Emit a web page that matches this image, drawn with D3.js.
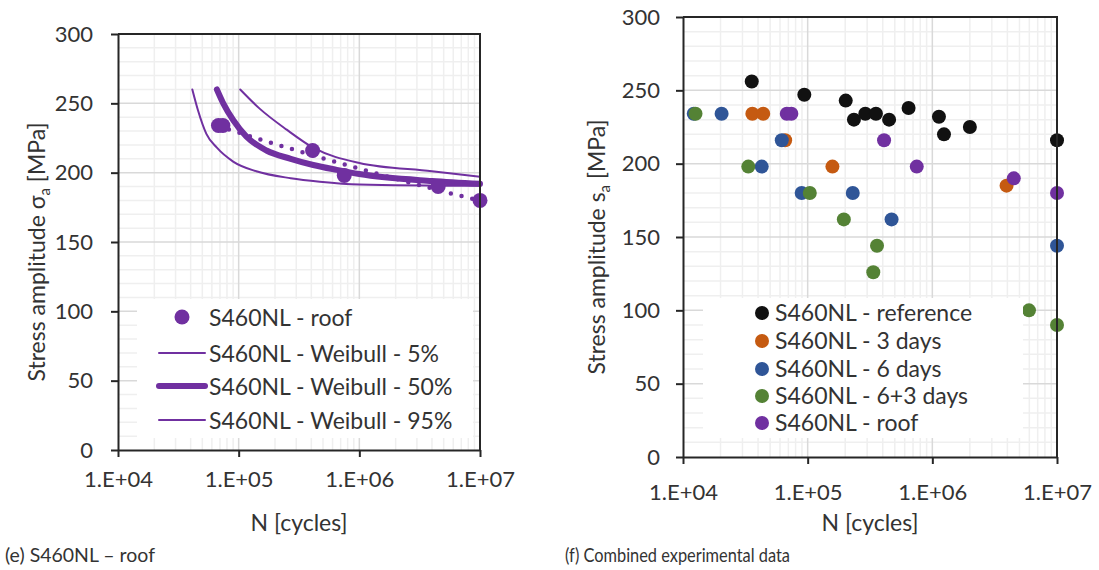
<!DOCTYPE html>
<html>
<head>
<meta charset="utf-8">
<script src="https://cdn.jsdelivr.net/npm/d3@7"></script>
<style>
body { margin: 0; background: #fff; }
text { font-family: Lato, "Open Sans", sans-serif; fill: #333; }
</style>
</head>
<body>
<svg id="chart" width="1099" height="570"></svg>
<script>
// axis ticks
const decades = [1e4, 1e5, 1e6, 1e7];
const stressTicks = [0, 50, 100, 150, 200, 250, 300];

// (e) roof results, [cycles, stress MPa]
const roofPoints = [[6.8e4, 234], [7.4e4, 234], [4.1e5, 216], [7.5e5, 198], [4.5e6, 190], [1e7, 180]];

// weibull curves
const weibull5 = [[4.13e4, 260], [4.6e4, 245], [5.4e4, 228], [6.6e4, 218], [9.0e4, 208], [1.4e5, 201],
	[2.7e5, 196], [4.7e5, 193.5], [1e6, 191.5], [1e7, 190.5]];
const weibull50 = [[6.6e4, 260], [7.45e4, 250], [9.0e4, 238], [1.16e5, 226], [1.7e5, 216], [2.7e5, 210],
	[4.15e5, 205.5], [6.5e5, 202], [1e6, 199], [4e6, 194], [1e7, 192]];
const weibull95 = [[1.03e5, 260], [1.5e5, 246], [2.5e5, 231], [4.15e5, 218], [1e6, 207], [4e6, 201], [1e7, 197]];

// (f) combined experimental data
const referencePoints = [[3.56e4, 256], [9.4e4, 247], [2.02e5, 243], [2.35e5, 230], [2.9e5, 234], [3.53e5, 234],
	[4.5e5, 230], [6.45e5, 238], [1.13e6, 232], [1.24e6, 220], [2.0e6, 225], [1e7, 216]];
const days3Points = [[3.6e4, 234], [4.4e4, 234], [6.6e4, 216], [1.58e5, 198], [3.94e6, 185]];
const days6Points = [[1.22e4, 234], [2.04e4, 234], [6.2e4, 216], [4.28e4, 198], [8.95e4, 180], [2.3e5, 180],
	[4.71e5, 162], [1e7, 144]];
const days63Points = [[1.26e4, 234], [3.34e4, 198], [1.04e5, 180], [1.95e5, 162], [3.6e5, 144], [3.36e5, 126],
	[5.96e6, 100], [1e7, 90]];

const purple = '#7030a0';

const combinedSeries = [
	{ name: 'S460NL - reference', color: '#111111', pts: referencePoints },
	{ name: 'S460NL - 3 days', color: '#c55a11', pts: days3Points },
	{ name: 'S460NL - 6 days', color: '#2f5597', pts: days6Points },
	{ name: 'S460NL - 6+3 days', color: '#548235', pts: days63Points },
	{ name: 'S460NL - roof', color: purple, pts: roofPoints }
];

const svg = d3.select('#chart');
svg.append('rect').attr('width', 1099).attr('height', 570).attr('fill', '#fff');

const fmtDecade = d => `1.E+0${Math.round(Math.log10(d))}`;

function drawPanel(box) {
	const x = d3.scaleLog().domain([1e4, 1e7]).range([box.x0, box.x1]);
	const y = d3.scaleLinear().domain([0, 300]).range([box.y1, box.y0]);
	const g = svg.append('g');

	// minor grid
	const minorX = [];
	[1e4, 1e5, 1e6].forEach(d => d3.range(2, 10).forEach(k => minorX.push(d * k)));
	const minorY = d3.range(10, 300, 10).filter(v => v % 50 != 0);
	g.selectAll('.vMinor').data(minorX).join('line')
		.attr('x1', d => x(d)).attr('x2', d => x(d))
		.attr('y1', box.y0).attr('y2', box.y1)
		.attr('stroke', '#efefef').attr('stroke-width', 1.5);
	g.selectAll('.hMinor').data(minorY).join('line')
		.attr('y1', d => y(d)).attr('y2', d => y(d))
		.attr('x1', box.x0).attr('x2', box.x1)
		.attr('stroke', '#efefef').attr('stroke-width', 1.5);

	// major grid
	g.selectAll('.vMajor').data(decades.slice(1, 3)).join('line')
		.attr('x1', d => x(d)).attr('x2', d => x(d))
		.attr('y1', box.y0).attr('y2', box.y1)
		.attr('stroke', '#d9d9d9').attr('stroke-width', 1.5);
	g.selectAll('.hMajor').data(stressTicks.slice(1, 6)).join('line')
		.attr('y1', d => y(d)).attr('y2', d => y(d))
		.attr('x1', box.x0).attr('x2', box.x1)
		.attr('stroke', '#d9d9d9').attr('stroke-width', 1.5);

	return { x, y, g };
}

function drawFrame(p, box) {
	const xAxis = p.g.append('g')
		.attr('transform', `translate(0,${box.y1})`)
		.call(d3.axisBottom(p.x).tickValues(decades).tickFormat(fmtDecade)
			.tickSize(7).tickSizeOuter(0).tickPadding(box.xPad));
	const yAxis = p.g.append('g')
		.attr('transform', `translate(${box.x0},0)`)
		.call(d3.axisLeft(p.y).tickValues(stressTicks)
			.tickSize(7).tickSizeOuter(0).tickPadding(box.yPad));

	[xAxis, yAxis].forEach(a => {
		a.select('.domain').attr('stroke', '#262626').attr('stroke-width', 2);
		a.selectAll('.tick line').attr('stroke', '#262626').attr('stroke-width', 2);
		a.selectAll('.tick text').attr('font-size', box.tickFont).attr('fill', '#333')
			.style('font-family', 'Lato, sans-serif');
	});

	// top and right border
	p.g.append('path')
		.attr('d', `M${box.x0},${box.y0}H${box.x1}V${box.y1}`)
		.attr('fill', 'none').attr('stroke', '#262626').attr('stroke-width', 2);
}

function drawTitles(box, yTitleX, sym, capX, caption, capWidth) {
	svg.append('text')
		.attr('x', (box.x0 + box.x1) / 2).attr('y', 531)
		.attr('text-anchor', 'middle').attr('font-size', 23)
		.text('N [cycles]');

	const yt = svg.append('text')
		.attr('transform', `translate(${yTitleX},${(box.y0 + box.y1) / 2 + 10}) rotate(-90)`)
		.attr('text-anchor', 'middle').attr('font-size', 23);
	yt.append('tspan').text(`Stress amplitude ${sym}`);
	yt.append('tspan').attr('font-size', 15).attr('dy', 5).text('a');
	yt.append('tspan').attr('dy', -5).text(' [MPa]');

	svg.append('text')
		.attr('x', capX).attr('y', 562)
		.attr('font-size', 20)
		.attr('textLength', capWidth).attr('lengthAdjust', 'spacingAndGlyphs')
		.text(caption);
}

/* ---------- (e) S460NL - roof ---------- */
const leftBox = { x0: 118, x1: 480, y0: 34, y1: 450, xPad: 14, yPad: 18, tickFont: 22 };
const left = drawPanel(leftBox);

const curveLine = d3.line()
	.x(d => left.x(d[0]))
	.y(d => left.y(d[1]))
	.curve(d3.curveMonotoneX);

// power trendline fitted to the roof results
function powerFit(pts) {
	const lx = pts.map(d => Math.log10(d[0]));
	const ly = pts.map(d => Math.log10(d[1]));
	const mx = d3.mean(lx), my = d3.mean(ly);
	const b = d3.sum(lx, (v, i) => (v - mx) * (ly[i] - my)) / d3.sum(lx, v => (v - mx) * (v - mx));
	return n => Math.pow(10, my + b * (Math.log10(n) - mx));
}
const fit = powerFit(roofPoints);
const fitExtent = d3.extent(roofPoints, d => d[0]);
const fitPts = d3.range(0, 41).map(i => {
	const n = fitExtent[0] * Math.pow(fitExtent[1] / fitExtent[0], i / 40);
	return [n, fit(n)];
});

// legend box hides grid
const leftLegend = svg.append('g');
leftLegend.append('rect')
	.attr('x', 137).attr('y', 299).attr('width', 336).attr('height', 139)
	.attr('fill', '#fff');

[{ pts: weibull5, w: 2 }, { pts: weibull95, w: 2 }, { pts: weibull50, w: 6 }].forEach(c => {
	left.g.append('path')
		.attr('d', curveLine(c.pts))
		.attr('fill', 'none').attr('stroke', purple)
		.attr('stroke-width', c.w).attr('stroke-linecap', 'round');
});

left.g.append('path')
	.attr('d', curveLine(fitPts))
	.attr('fill', 'none').attr('stroke', purple)
	.attr('stroke-width', 4.5).attr('stroke-linecap', 'round')
	.attr('stroke-dasharray', '0,11');

left.g.selectAll('.roofDot').data(roofPoints).join('circle')
	.attr('cx', d => left.x(d[0])).attr('cy', d => left.y(d[1]))
	.attr('r', 7.5).attr('fill', purple);

drawFrame(left, leftBox);

const leftLegendItems = [
	{ text: 'S460NL - roof', type: 'dot' },
	{ text: 'S460NL - Weibull - 5%', type: 'line', w: 2 },
	{ text: 'S460NL - Weibull - 50%', type: 'line', w: 6 },
	{ text: 'S460NL - Weibull - 95%', type: 'line', w: 2 }
];
const leftRowY = [317, 353, 386, 420];
leftLegendItems.forEach((d, i) => {
	const cy = leftRowY[i];
	if (d.type == 'dot') {
		leftLegend.append('circle').attr('cx', 182).attr('cy', cy).attr('r', 7.5).attr('fill', purple);
	} else {
		leftLegend.append('line')
			.attr('x1', 159).attr('x2', 205).attr('y1', cy).attr('y2', cy)
			.attr('stroke', purple).attr('stroke-width', d.w).attr('stroke-linecap', 'round');
	}
	leftLegend.append('text')
		.attr('x', 209).attr('y', cy + 8.5)
		.attr('font-size', 23)
		.text(d.text);
});
leftLegend.raise();

drawTitles(leftBox, 45, 'σ', 5, '(e) S460NL – roof', 150);

/* ---------- (f) combined experimental data ---------- */
const rightBox = { x0: 683, x1: 1057, y0: 17, y1: 457, xPad: 20, yPad: 16, tickFont: 22 };
const right = drawPanel(rightBox);

const rightLegend = svg.append('g');
rightLegend.append('rect')
	.attr('x', 703).attr('y', 298).attr('width', 320).attr('height', 140)
	.attr('fill', '#fff');

combinedSeries.forEach(s => {
	right.g.append('g').selectAll('circle').data(s.pts).join('circle')
		.attr('cx', d => right.x(d[0])).attr('cy', d => right.y(d[1]))
		.attr('r', 7).attr('fill', s.color);
});

drawFrame(right, rightBox);

const rightRowY = [313, 341, 369, 396, 423];
combinedSeries.forEach((s, i) => {
	rightLegend.append('circle')
		.attr('cx', 762).attr('cy', rightRowY[i]).attr('r', 7).attr('fill', s.color);
	rightLegend.append('text')
		.attr('x', 775).attr('y', rightRowY[i] + 8)
		.attr('font-size', 23)
		.text(s.name);
});

drawTitles(rightBox, 605, 's', 565, '(f) Combined experimental data', 225);
</script>
</body>
</html>
